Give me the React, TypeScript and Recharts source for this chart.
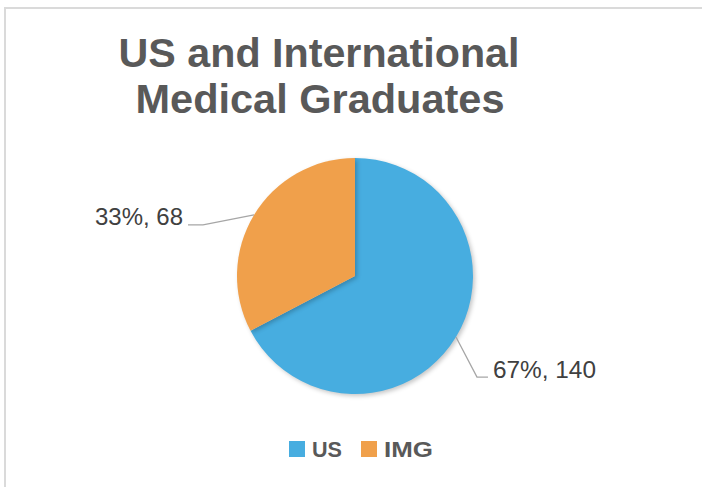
import React from 'react';
import { PieChart, Pie, Cell, Legend } from 'recharts';

const categories = ['US', 'IMG'];
const values = [140, 68];
const colors = ['#47ADE0', '#F0A04B'];
const titleLines = ['US and International', 'Medical Graduates'];

const data = categories.map((name, i) => ({ name, value: values[i] }));

const RAD = Math.PI / 180;

const renderLabel = (props: any) => {
  const { cx, cy, midAngle, outerRadius, percent, value } = props;
  const c = Math.cos(-midAngle * RAD);
  const s = Math.sin(-midAngle * RAD);
  const ex = cx + outerRadius * c;
  const ey = cy + outerRadius * s;
  const right = c >= 0;
  const text = `${Math.round(percent * 100)}%, ${value}`;
  if (right) {
    const bx = ex + 21;
    const by = ey + 40;
    const fx = bx + 11;
    return (
      <g>
        <polyline points={`${ex},${ey} ${bx},${by} ${fx},${by}`} fill="none" stroke="#A6A6A6" strokeWidth={1.3} />
        <text x={fx + 5} y={by + 1} fill="#404040" fontSize={24} fontFamily="'Liberation Sans', Arial, sans-serif" textLength={103} lengthAdjust="spacingAndGlyphs">
          {text}
        </text>
      </g>
    );
  }
  const bx = ex - 51;
  const by = ey + 10;
  const fx = bx - 15;
  return (
    <g>
      <polyline points={`${ex},${ey} ${bx},${by} ${fx},${by}`} fill="none" stroke="#A6A6A6" strokeWidth={1.3} />
      <text x={fx - 93} y={by} fill="#404040" fontSize={24} fontFamily="'Liberation Sans', Arial, sans-serif" textLength={88} lengthAdjust="spacingAndGlyphs">
        {text}
      </text>
    </g>
  );
};

const legendWidths = [30, 49];

const renderLegend = () => (
  <svg width={200} height={22} style={{ display: 'block', margin: '0 auto', overflow: 'visible' }}>
    {categories.map((name, i) => {
      const x0 = i === 0 ? 0 : 72;
      return (
        <g key={name}>
          <rect x={x0} y={3} width={16} height={16} fill={colors[i]} />
          <text x={x0 + 23} y={19} fill="#595959" fontSize={22} fontWeight="bold" fontFamily="'Liberation Sans', Arial, sans-serif" textLength={legendWidths[i]} lengthAdjust="spacingAndGlyphs">
            {name}
          </text>
        </g>
      );
    })}
  </svg>
);

export default function App() {
  return (
    <div style={{ position: 'fixed', left: 0, top: 0, width: 702, height: 487, overflow: 'hidden', background: '#fff' }}>
      <style>{`.recharts-pie-sector { filter: drop-shadow(2px 2px 2px rgba(0,0,0,0.22)); }`}</style>
      <div style={{ position: 'absolute', left: 4, top: 7, width: 760, height: 560, border: '2px solid #DADADA', boxSizing: 'border-box' }} />
      <svg width={702} height={130} style={{ position: 'absolute', left: 0, top: 0 }}>
        <text x={319} y={67} textAnchor="middle" fill="#595959" fontSize={41} fontWeight="bold" fontFamily="'Liberation Sans', Arial, sans-serif" textLength={401} lengthAdjust="spacingAndGlyphs">
          {titleLines[0]}
        </text>
        <text x={320} y={113} textAnchor="middle" fill="#595959" fontSize={41} fontWeight="bold" fontFamily="'Liberation Sans', Arial, sans-serif" textLength={369} lengthAdjust="spacingAndGlyphs">
          {titleLines[1]}
        </text>
      </svg>
      <div style={{ position: 'absolute', left: 0, top: 0 }}>
        <PieChart width={702} height={487} margin={{ top: 0, right: 0, bottom: 0, left: 0 }}>
          <Pie
            data={data}
            dataKey="value"
            nameKey="name"
            cx={355}
            cy={276}
            outerRadius={118}
            startAngle={90}
            endAngle={-270}
            stroke="none"
            labelLine={false}
            label={renderLabel}
            isAnimationActive={false}
          >
            {data.map((d, i) => (
              <Cell key={d.name} fill={colors[i]} />
            ))}
          </Pie>
          <Legend
            content={renderLegend}
            wrapperStyle={{ position: 'absolute', left: 289, top: 438, width: 200 }}
          />
        </PieChart>
      </div>
    </div>
  );
}
